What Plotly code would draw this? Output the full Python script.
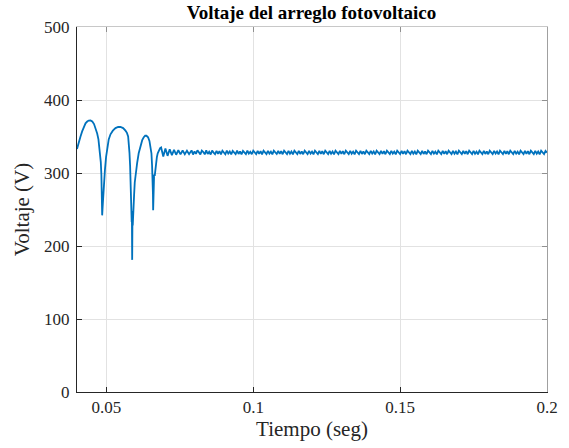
import plotly.graph_objects as go

# Transient part (time in s, voltage in V)
t_trans = [0.0400, 0.04060, 0.04119, 0.04175, 0.04231, 0.04290, 0.04347, 0.04400, 0.04459,
           0.04520, 0.04580, 0.04640, 0.04687, 0.04730, 0.04760, 0.04790, 0.04810, 0.04830,
           0.04845, 0.04857,
           0.04885, 0.04912, 0.04950, 0.04990, 0.05027, 0.05080, 0.05140, 0.05220, 0.05310,
           0.05400, 0.05480, 0.05570, 0.05650, 0.05700, 0.05741, 0.05765, 0.05786, 0.05808,
           0.05830, 0.05842, 0.05850, 0.05856, 0.05862, 0.05868, 0.05878, 0.05888, 0.05898,
           0.05908, 0.05922, 0.05944, 0.05966, 0.06005, 0.06048, 0.06100, 0.06160, 0.06220,
           0.06272, 0.06320, 0.06364, 0.06420, 0.06466, 0.06500, 0.06534, 0.06556, 0.06570,
           0.06578, 0.06585, 0.06592, 0.06605, 0.06615, 0.06625, 0.06646, 0.06670, 0.06694,
           0.06720, 0.06748, 0.06790, 0.06830, 0.06864,
           0.06937, 0.07010, 0.07083, 0.07156, 0.07230, 0.07303, 0.07376, 0.07450, 0.07523,
           0.07596, 0.07670, 0.07743, 0.07816]
v_trans = [333, 343, 350, 357, 363.5, 368, 370.5, 371.8, 372,
           370.5, 367, 361, 354, 346, 337, 326, 315, 298,
           275, 242,
           262, 283, 304, 322, 335, 346, 353, 358, 361.5,
           363, 363, 361.5, 358, 355, 350, 341, 328, 310,
           287, 262, 240, 257, 233, 248, 181, 238, 228,
           246, 250, 270, 287, 302, 314, 327, 338, 345,
           349, 351, 351, 349, 344, 337, 327, 310, 292,
           302, 272, 249, 286, 270, 298, 296, 306, 316,
           322, 327, 331, 334, 335,
           322.5, 333.5, 323.5, 332.5, 324.5, 331.8, 325, 331.2, 325.5,
           330.8, 325.7, 330.6, 325.8]

# Steady-state ripple band, sampled every 0.5 ms from 0.0790 s to 0.2 s
ripple_t0 = 0.0790
ripple_dt = 0.0005
v_ripple = [
    331.0, 325.3, 329.6, 326.2, 331.2, 327.4, 325.5, 330.6, 328.8, 325.6,
    330.9, 326.0, 329.2, 325.4, 330.7, 327.9, 325.8, 330.3, 326.4, 329.9,
    325.6, 330.5, 328.1, 325.7, 330.8, 326.6, 329.4, 325.5, 330.2, 327.2,
    325.9, 330.6, 326.1, 329.7, 325.6, 330.4, 328.4, 325.8, 330.7, 326.5,
    329.1, 325.7, 330.5, 327.6, 325.9, 330.3, 326.2, 329.8, 325.6, 330.6,
    328.0, 325.8, 330.4, 326.7, 329.3, 325.6, 330.5, 327.3, 326.0, 330.2,
    326.3, 329.9, 325.7, 330.6, 328.5, 325.9, 330.3, 326.4, 329.5, 325.6,
    330.5, 327.8, 325.8, 330.4, 326.1, 329.7, 325.7, 330.6, 328.2, 325.9,
    330.3, 326.6, 329.2, 325.6, 330.5, 327.5, 325.9, 330.4, 326.2, 329.8,
    325.7, 330.6, 328.3, 325.8, 330.2, 326.5, 329.4, 325.6, 330.5, 327.7,
    325.9, 330.3, 326.3, 329.9, 325.7, 330.6, 328.6, 325.8, 330.4, 326.4,
    329.3, 325.6, 330.5, 327.4, 326.0, 330.3, 326.1, 329.7, 325.7, 330.6,
    328.1, 325.8, 330.4, 326.6, 329.5, 325.6, 330.5, 327.6, 325.9, 330.2,
    326.2, 329.8, 325.7, 330.6, 328.4, 325.9, 330.3, 326.5, 329.2, 325.6,
    330.5, 327.9, 325.8, 330.4, 326.3, 329.9, 325.7, 330.6, 328.2, 325.9,
    330.3, 326.4, 329.4, 325.6, 330.5, 327.3, 326.0, 330.4, 326.1, 329.7,
    325.7, 330.6, 328.5, 325.8, 330.2, 326.6, 329.3, 325.6, 330.5, 327.8,
    325.9, 330.3, 326.2, 329.8, 325.7, 330.6, 328.0, 325.8, 330.4, 326.5,
    329.5, 325.6, 330.5, 327.5, 325.9, 330.3, 326.3, 329.9, 325.7, 330.6,
    328.3, 325.9, 330.4, 326.4, 329.2, 325.6, 330.5, 327.7, 325.8, 330.2,
    326.1, 329.7, 325.7, 330.6, 328.6, 325.9, 330.3, 326.6, 329.4, 325.6,
    330.5, 327.4, 326.0, 330.4, 326.2, 329.8, 325.7, 330.6, 328.1, 325.8,
    330.3, 326.5, 329.3, 325.6, 330.5, 327.6, 325.9, 330.4, 326.3, 329.9,
    325.7, 330.6, 328.4, 325.8, 330.2, 326.4, 329.5, 325.6, 330.5, 327.9,
    325.9, 330.3, 328.0]
t_ripple = [round(ripple_t0 + i * ripple_dt, 6) for i in range(len(v_ripple))]

t_all = t_trans + t_ripple
v_all = v_trans + v_ripple

x_ticks = [0.05, 0.1, 0.15, 0.2]
x_ticklabels = ["0.05", "0.1", "0.15", "0.2"]
y_ticks = [0, 100, 200, 300, 400, 500]

FONT = "Liberation Serif, Times New Roman, serif"
DARK = "#262626"

fig = go.Figure()
fig.add_trace(go.Scatter(x=t_all, y=v_all, mode="lines",
                         line=dict(color="#0072BD", width=1.8),
                         showlegend=False, hoverinfo="skip"))
# invisible trace to activate top/right frame axes
fig.add_trace(go.Scatter(x=[0.04], y=[0], xaxis="x2", yaxis="y2", mode="markers",
                         marker=dict(opacity=0), showlegend=False, hoverinfo="skip"))

fig.update_layout(
    width=569, height=448,
    margin=dict(l=76.5, r=22.3, t=27.3, b=56.3),
    paper_bgcolor="white", plot_bgcolor="white",
    font=dict(family=FONT, color=DARK, size=16),
    title=dict(text="<b>Voltaje del arreglo fotovoltaico</b>",
               x=0.5474, xanchor="center", y=0.972, yanchor="middle",
               font=dict(family=FONT, size=19, color="black")),
    xaxis=dict(range=[0.04, 0.2], tickvals=x_ticks, ticktext=x_ticklabels,
               showgrid=True, gridcolor="#e2e2e2", gridwidth=1,
               showline=True, linecolor=DARK, linewidth=1,
               ticks="inside", ticklen=5, tickcolor=DARK,
               zeroline=False, tickfont=dict(size=17, family=FONT, color=DARK),
               title=dict(text="Tiempo (seg)", font=dict(size=21, family=FONT, color=DARK), standoff=4)),
    yaxis=dict(range=[0, 500], tickvals=y_ticks,
               showgrid=True, gridcolor="#e2e2e2", gridwidth=1,
               showline=True, linecolor=DARK, linewidth=1,
               ticks="inside", ticklen=5, tickcolor=DARK, ticklabelstandoff=3,
               zeroline=False, tickfont=dict(size=17, family=FONT, color=DARK),
               title=dict(text="Voltaje (V)", font=dict(size=21, family=FONT, color=DARK), standoff=8)),
    xaxis2=dict(range=[0.04, 0.2], overlaying="x", side="top", tickvals=x_ticks,
                showticklabels=False, showgrid=False, zeroline=False,
                showline=True, linecolor="#c8c8c8", linewidth=1,
                ticks="inside", ticklen=5, tickcolor="#909090", anchor="y2"),
    yaxis2=dict(range=[0, 500], overlaying="y", side="right", tickvals=y_ticks,
                showticklabels=False, showgrid=False, zeroline=False,
                showline=True, linecolor="#a0a0a0", linewidth=1,
                ticks="inside", ticklen=5, tickcolor="#909090", anchor="x2"),
)

fig.write_html("out.html", config={"displayModeBar": False},
               post_script="document.body.style.margin='0';document.body.style.padding='0';")
